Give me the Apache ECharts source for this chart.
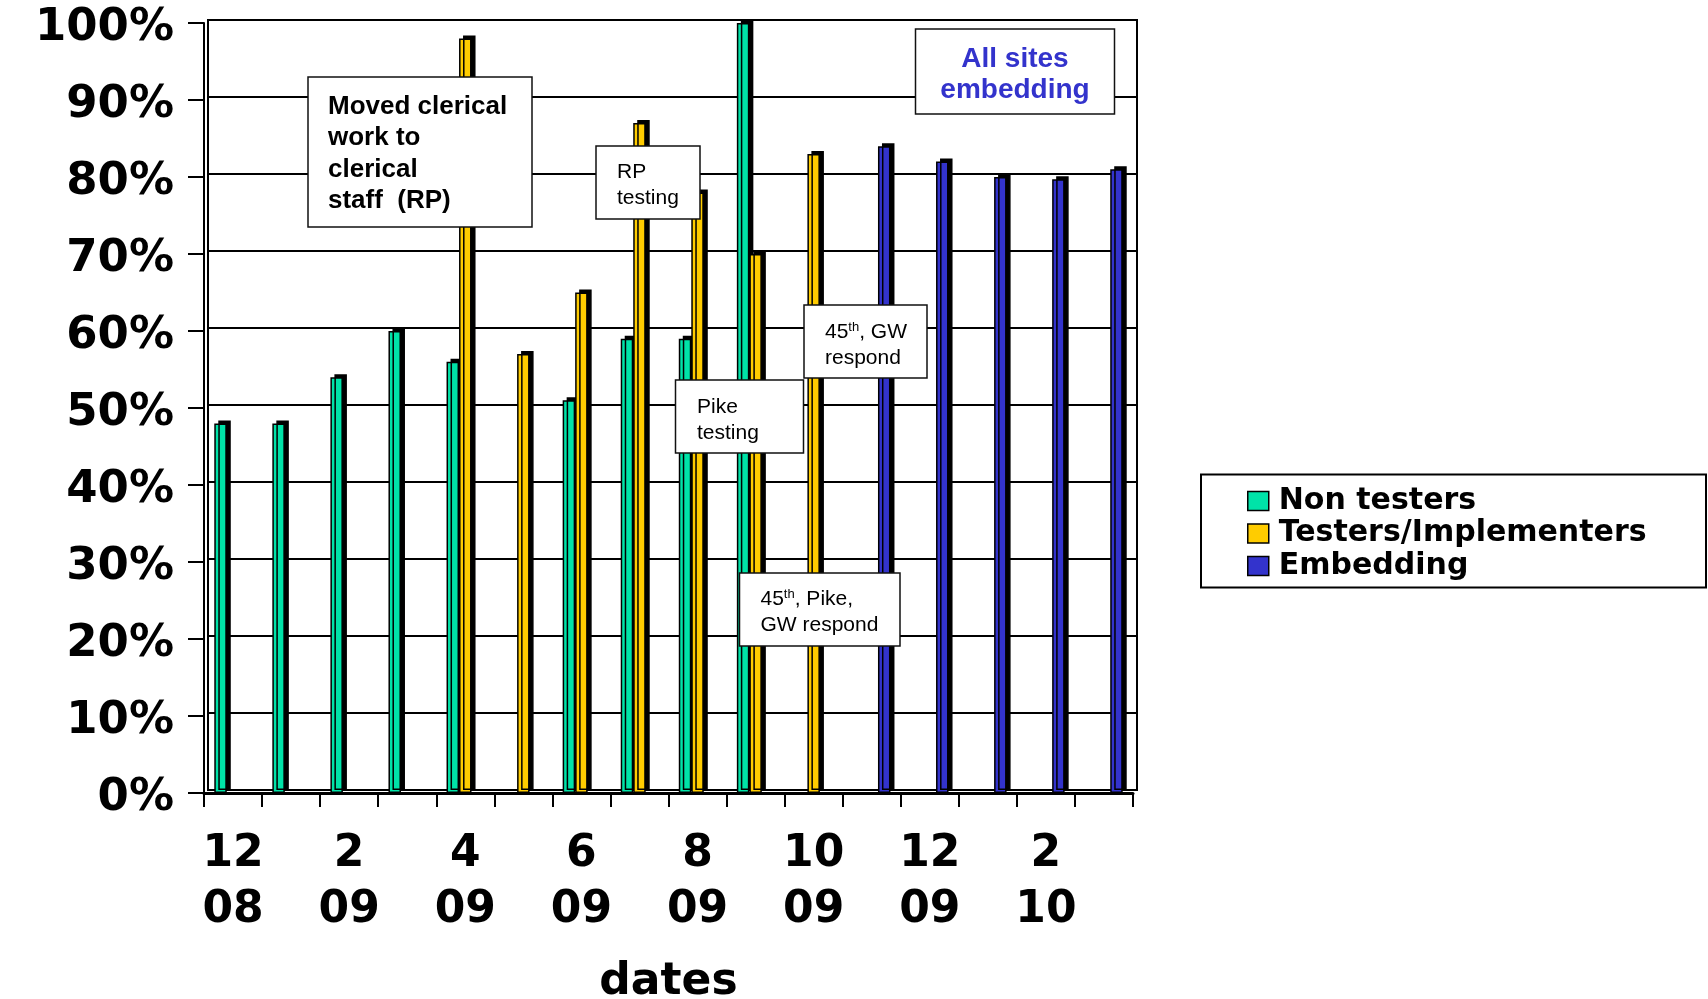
<!DOCTYPE html>
<html>
<head>
<meta charset="utf-8">
<script src="https://cdn.jsdelivr.net/npm/echarts@6/dist/echarts.min.js"></script>
<style>
  html, body { margin: 0; padding: 0; background: #fff; }
  #chart { width: 1708px; height: 999px; }
</style>
</head>
<body>
<div id="chart"></div>
<script>
// Month / year categories (month on the first line, two-digit year below)
const categories = ['12\n08', '1\n09', '2\n09', '3\n09', '4\n09', '5\n09', '6\n09', '7\n09',
                    '8\n09', '9\n09', '10\n09', '11\n09', '12\n09', '1\n10', '2\n10', '3\n10'];

// Percentages per group, null where the group has no value that month
const nonTesters = [48, 48, 54, 60, 56, null, 51, 59, 59, 100, null, null, null, null, null, null];
const testers    = [null, null, null, null, 98, 57, 65, 87, 78, 70, 83, null, null, null, null, null];
const embedding  = [null, null, null, null, null, null, null, null, null, null, null, 84, 82, 80, 79.7, 81];

const seriesNames = ['Non testers', 'Testers/Implementers', 'Embedding'];
const seriesColors = ['#00E3A8', '#FFCC00', '#3333CC'];

const axisFont = 'DejaVu Sans, Verdana, sans-serif';
const noteFont = 'Liberation Sans, Arial, sans-serif';

const chart = echarts.init(document.getElementById('chart'), null, { renderer: 'canvas' });

function barSeries(name, data, color) {
  return {
    name: name,
    type: 'bar',
    xAxisIndex: 1,
    yAxisIndex: 1,
    data: data.map(v => (v === null ? '-' : v)),
    barWidth: 12.5,
    barGap: '0%',
    itemStyle: {
      color: color,
      borderColor: '#000',
      borderWidth: 1.5,
      // dark side/top faces give the bars their box look
      shadowColor: '#000',
      shadowBlur: 0,
      shadowOffsetX: 4,
      shadowOffsetY: -3
    },
    emphasis: { disabled: true }
  };
}

// Annotation call-outs: white boxes with a thin black border
function noteBox(x, y, w, h) {
  return {
    type: 'rect',
    z: 20,
    shape: { x: x, y: y, width: w, height: h },
    style: { fill: '#fff', stroke: '#111', lineWidth: 1.5 }
  };
}

const normal = { fontSize: 21, fontFamily: noteFont, fill: '#000', lineHeight: 26 };
const sup = { fontSize: 13, fontFamily: noteFont, fill: '#000', lineHeight: 26, verticalAlign: 'top', padding: [2, 0, 0, 0] };

function noteText(x, y, text, extra) {
  return {
    type: 'text',
    z: 21,
    x: x,
    y: y,
    style: Object.assign({
      text: text,
      fill: '#000',
      fontFamily: noteFont,
      fontSize: 21,
      lineHeight: 26,
      align: 'left',
      verticalAlign: 'middle',
      rich: { n: normal, s: sup }
    }, extra || {})
  };
}

const option = {
  animation: false,
  backgroundColor: '#fff',
  grid: [
    // back wall of the plot
    { left: 208, right: 571, top: 20, bottom: 209, show: true, borderColor: '#000', borderWidth: 2,
      backgroundColor: 'transparent', outerBoundsMode: 'none', containLabel: false },
    // front plane carrying the axes and bars
    { left: 204, right: 575, top: 23, bottom: 206, outerBoundsMode: 'none', containLabel: false }
  ],
  xAxis: [
    { gridIndex: 0, type: 'category', data: categories, show: false },
    {
      gridIndex: 1,
      type: 'category',
      data: categories,
      boundaryGap: true,
      axisLine: { show: true, lineStyle: { color: '#000', width: 3 } },
      axisTick: { show: true, interval: 0, length: 14, lineStyle: { color: '#000', width: 2 } },
      axisLabel: {
        interval: 1,
        margin: 34,
        color: '#000',
        fontFamily: axisFont,
        fontWeight: 'bold',
        fontSize: 44,
        lineHeight: 56
      },
      splitLine: { show: false },
      name: 'dates',
      nameLocation: 'middle',
      nameGap: 168,
      nameTextStyle: { color: '#000', fontFamily: axisFont, fontWeight: 'bold', fontSize: 44 }
    }
  ],
  yAxis: [
    {
      gridIndex: 0, type: 'value', min: 0, max: 100, interval: 10,
      axisLine: { show: false }, axisTick: { show: false }, axisLabel: { show: false },
      splitLine: { show: true, lineStyle: { color: '#000', width: 2 } }
    },
    {
      gridIndex: 1, type: 'value', min: 0, max: 100, interval: 10,
      axisLine: { show: true, lineStyle: { color: '#000', width: 2 } },
      axisTick: { show: true, length: 16, lineStyle: { color: '#000', width: 2 } },
      axisLabel: {
        formatter: '{value}%',
        margin: 30,
        color: '#000',
        fontFamily: axisFont,
        fontWeight: 'bold',
        fontSize: 45,
        // labels sit slightly below their tick marks
        verticalAlign: 'top',
        lineHeight: 11
      },
      splitLine: { show: false }
    }
  ],
  legend: {
    orient: 'vertical',
    left: 1247,
    top: 486,
    padding: 0,
    itemWidth: 21,
    itemHeight: 19,
    itemGap: 2.5,
    icon: 'rect',
    selectedMode: false,
    data: seriesNames,
    itemStyle: {
      borderColor: '#000', borderWidth: 1.5,
      shadowBlur: 0, shadowOffsetX: 0, shadowOffsetY: 0, shadowColor: 'rgba(0,0,0,0)'
    },
    textStyle: {
      color: '#000', fontFamily: axisFont, fontWeight: 'bold', fontSize: 30,
      lineHeight: 30, padding: [0, 0, 0, 5]
    }
  },
  graphic: [
    // legend frame
    { type: 'rect', z: 1, shape: { x: 1201, y: 474.5, width: 505, height: 113 },
      style: { fill: '#fff', stroke: '#000', lineWidth: 2 } },

    noteBox(308, 77, 224, 150),
    noteText(328, 154, 'Moved clerical\nwork to\nclerical\nstaff  (RP)',
      { fontWeight: 'bold', fontSize: 26, lineHeight: 31.5, rich: {} }),

    noteBox(596, 146, 104, 73),
    noteText(617, 185, 'RP\ntesting', { rich: {} }),

    noteBox(804, 305, 123, 73),
    noteText(825, 345, '{n|45}{s|th}{n|, GW}\n{n|respond}'),

    noteBox(675.5, 380, 128, 73),
    noteText(697, 420, 'Pike\ntesting', { rich: {} }),

    noteBox(739.5, 573, 160.5, 73),
    noteText(760.5, 612, '{n|45}{s|th}{n|, Pike,}\n{n|GW respond}'),

    noteBox(915.5, 29, 199, 85),
    noteText(1015, 74.5, 'All sites\nembedding',
      { fill: '#3333CC', fontWeight: 'bold', fontSize: 28, lineHeight: 31, align: 'center', rich: {} })
  ],
  series: [
    barSeries(seriesNames[0], nonTesters, seriesColors[0]),
    barSeries(seriesNames[1], testers, seriesColors[1]),
    barSeries(seriesNames[2], embedding, seriesColors[2])
  ]
};

chart.setOption(option);
</script>
</body>
</html>
